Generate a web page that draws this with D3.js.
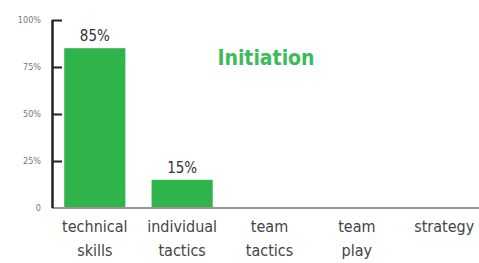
<!DOCTYPE html>
<html lang="en">
  <head>
    <meta charset="UTF-8" />
    <title>Initiation</title>
    <script src="https://d3js.org/d3.v7.min.js"></script>
    <style>
      html,
      body {
        margin: 0;
        background: #fff;
        font-family: "DejaVu Sans", sans-serif;
      }
      svg {
        display: block;
      }
      .cat,
      .val,
      .ytl {
        font-stretch: condensed;
      }
    </style>
  </head>
  <body>
    <svg width="479" height="263"></svg>
    <script>
      // chart data
      const categories = [
        ["technical", "skills"],
        ["individual", "tactics"],
        ["team", "tactics"],
        ["team", "play"],
        ["strategy"],
      ];
      const values = [85, 15, 0, 0, 0];
      const yTicks = [0, 25, 50, 75, 100];
      const yTickLabels = ["0", "25%", "50%", "75%", "100%"];

      const svg = d3.select("svg");
      const plotLeft = 52,
        plotRight = 479,
        plotTop = 20,
        plotBottom = 208;

      const keys = categories.map((c) => c.join(" "));
      const rows = keys.map((k, i) => ({ key: k, value: values[i] }));

      // band range runs a little past the right edge so the spacing matches
      const x = d3
        .scaleBand()
        .domain(keys)
        .range([plotLeft, 487])
        .paddingInner(0.3)
        .paddingOuter(0.14);
      const y = d3.scaleLinear().domain([0, 100]).range([plotBottom, plotTop]);

      // bars
      svg
        .selectAll("rect.bar")
        .data(rows.filter((d) => d.value > 0))
        .enter()
        .append("rect")
        .attr("class", "bar")
        .attr("x", (d) => x(d.key))
        .attr("y", (d) => y(d.value))
        .attr("width", x.bandwidth())
        .attr("height", (d) => y(0) - y(d.value))
        .attr("fill", "#2fb34b");

      // value labels
      svg
        .selectAll("text.val")
        .data(rows.filter((d) => d.value > 0))
        .enter()
        .append("text")
        .attr("class", "val")
        .attr("x", (d) => x(d.key) + x.bandwidth() / 2)
        .attr("y", (d) => y(d.value) - 7)
        .attr("text-anchor", "middle")
        .attr("font-size", 15)
        .attr("fill", "#333")
        .text((d) => d.value + "%");

      // baseline
      svg
        .append("line")
        .attr("x1", plotLeft)
        .attr("x2", plotRight)
        .attr("y1", y(0))
        .attr("y2", y(0))
        .attr("stroke", "#9a9490")
        .attr("stroke-width", 2);

      // y axis
      const yAxis = d3
        .axisRight(y)
        .tickValues(yTicks)
        .tickSize(10)
        .tickFormat("");
      const ya = svg
        .append("g")
        .attr("transform", `translate(${plotLeft},0)`)
        .call(yAxis);
      ya.select(".domain")
        .attr("stroke", "#222")
        .attr("stroke-width", 2.5)
        .attr("d", `M0.5,${plotTop}V${plotBottom}`);
      ya.selectAll(".tick line").attr("stroke", "#222").attr("stroke-width", 2);
      ya.selectAll(".tick").filter((d) => d === 0).select("line").remove();

      // y tick labels
      yTicks.forEach((t, i) => {
        svg
          .append("text")
          .attr("class", "ytl")
          .attr("x", plotLeft - 11)
          .attr("y", y(t) + 3)
          .attr("text-anchor", "end")
          .attr("font-size", 9)
          .attr("fill", "#777")
          .text(yTickLabels[i]);
      });

      // category labels
      categories.forEach((lines, i) => {
        const cx = x(keys[i]) + x.bandwidth() / 2;
        const t = svg
          .append("text")
          .attr("class", "cat")
          .attr("x", cx)
          .attr("y", 232)
          .attr("text-anchor", "middle")
          .attr("font-size", 16)
          .attr("fill", "#444");
        lines.forEach((l, j) => {
          t.append("tspan")
            .attr("x", cx)
            .attr("dy", j === 0 ? 0 : 24)
            .text(l);
        });
      });

      // title
      svg
        .append("text")
        .attr("x", 266)
        .attr("y", 65)
        .attr("text-anchor", "middle")
        .attr("font-size", 21)
        .attr("font-weight", "bold")
        .attr("fill", "#3dbb5a")
        .style("font-stretch", "condensed")
        .text("Initiation");
    </script>
  </body>
</html>
